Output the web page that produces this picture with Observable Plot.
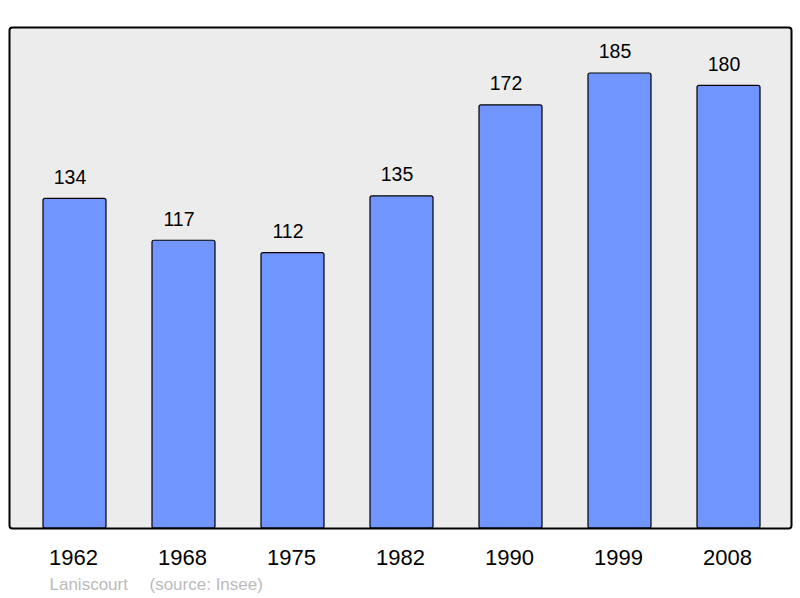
<!DOCTYPE html>
<html><head><meta charset="utf-8">
<script src="https://cdn.jsdelivr.net/npm/d3@7"></script>
<script src="https://cdn.jsdelivr.net/npm/@observablehq/plot@0.6"></script>
<style>body{margin:0;background:#fff} svg{display:block}</style>
</head><body><div id="chart"></div>
<script>
const years = ["1962","1968","1975","1982","1990","1999","2008"];
const population = [134,117,112,135,172,185,180];
const commune = "Laniscourt";
const source = "(source: Insee)";
const data = years.map((y,i)=>({year:y, pop:population[i]}));
const chart = Plot.plot({
  width:800, height:598,
  marginTop:27, marginBottom:70, marginLeft:9, marginRight:9,
  style:{fontFamily:"'Liberation Sans', Arial, sans-serif", background:"#fff", color:"#000"},
  x:{type:"band", domain:years, range:[10.7,792.7], paddingInner:0.419, paddingOuter:0.2868, label:null},
  y:{domain:[0,203.7], axis:null},
  marks:[
    Plot.frame({fill:"#ececec", stroke:"none", rx:3}),
    Plot.barY(data,{x:"year", y:"pop", fill:"#7095ff", stroke:"#000", strokeWidth:1.2, rx:2}),
    Plot.text(data,{x:"year", y:"pop", text:d=>String(d.pop), dx:-5, dy:-15, lineAnchor:"bottom", fontSize:19.5, fill:"#000"}),
    Plot.frame({stroke:"#000", strokeWidth:2, rx:3}),
    Plot.axisX({tickSize:0, tickPadding:21, dx:-1.5, fontSize:22, label:null}),
    Plot.text([commune], {frameAnchor:"bottom-left", dx:40, dy:61, lineAnchor:"bottom", textAnchor:"start", fontSize:17, fill:"#bbb"}),
    Plot.text([source], {frameAnchor:"bottom-left", dx:140, dy:61, lineAnchor:"bottom", textAnchor:"start", fontSize:17, fill:"#bbb"})
  ]
});
document.getElementById("chart").appendChild(chart);
</script></body></html>
